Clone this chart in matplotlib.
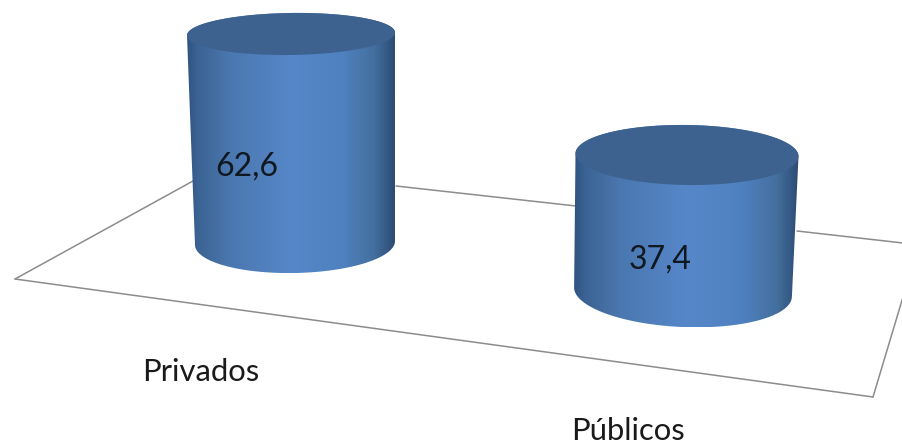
import numpy as np
import matplotlib
matplotlib.use("Agg")
import matplotlib.pyplot as plt
from matplotlib.colors import LinearSegmentedColormap
from matplotlib.patches import Polygon

# data
categories = ["Privados", "Públicos"]
values = [62.6, 37.4]
value_labels = ["62,6", "37,4"]

# layout in pixels of the picture (perspective: each column has its own scale)
base_cx = [295, 683]
base_cy = [243, 292]
base_rx = [100, 109]
base_ry = [30, 35]
base_tilt = [-1.2, 2.6]
top_cx = [291, 687]
top_rx = [104, 111.5]
top_ry = [21, 30]
top_tilt = [-0.8, 0.8]
px_per_unit = [3.339, 3.663]
value_xy = [(247, 167), (660, 260)]
cat_xy = [(201, 372), (628, 431)]

floor_segments = [
    ((15, 279), (193, 181)),
    ((396, 186), (576, 206)),
    ((797, 231), (903, 243)),
    ((15, 279), (873, 397)),
    ((873, 397), (903, 297)),
]

FONT = "Lato"
TOP_COLOR = "#3e6290"
SIDE = LinearSegmentedColormap.from_list(
    "side",
    [(0.0, "#2f5482"), (0.05, "#3b6393"), (0.2, "#4a77af"), (0.5, "#5687c9"),
     (0.75, "#4f80bf"), (0.9, "#44709f"), (0.97, "#335781"), (1.0, "#2c4a72")],
)


def ellipse_pts(cx, cy, rx, ry, tilt, t):
    a = np.radians(tilt)
    x, y = rx * np.cos(t), ry * np.sin(t)
    return np.column_stack([cx + x * np.cos(a) - y * np.sin(a),
                            cy + x * np.sin(a) + y * np.cos(a)])


fig = plt.figure(figsize=(9.03, 4.44), dpi=100, facecolor="white")
ax = fig.add_axes([0, 0, 1, 1])

for p, q in floor_segments:
    ax.plot([p[0], q[0]], [p[1], q[1]], color="#8c8c8c", lw=1.1, zorder=1,
            solid_capstyle="round")

for i, v in enumerate(values):
    top_cy = base_cy[i] - v * px_per_unit[i]
    back = ellipse_pts(top_cx[i], top_cy, top_rx[i], top_ry[i], top_tilt[i],
                       np.linspace(np.pi, 2 * np.pi, 80))
    front = ellipse_pts(base_cx[i], base_cy[i], base_rx[i], base_ry[i], base_tilt[i],
                        np.linspace(0, np.pi, 80))
    body = Polygon(np.vstack([back, front]), closed=True, fc="none", ec="none",
                   transform=ax.transData)
    ax.add_patch(body)
    xmin, xmax = min(back[:, 0].min(), front[:, 0].min()), max(back[:, 0].max(), front[:, 0].max())
    ymin, ymax = back[:, 1].min(), front[:, 1].max()
    img = ax.imshow(np.linspace(0, 1, 256)[None, :], cmap=SIDE, aspect="auto",
                    extent=(xmin, xmax, ymax, ymin), zorder=2, interpolation="bilinear")
    img.set_clip_path(body)
    cap = ellipse_pts(top_cx[i], top_cy, top_rx[i], top_ry[i], top_tilt[i],
                      np.linspace(0, 2 * np.pi, 160))
    ax.add_patch(Polygon(cap, closed=True, fc=TOP_COLOR, ec="none", zorder=3))
    ax.text(*value_xy[i], value_labels[i], ha="center", va="center", fontsize=23,
            family=FONT, color="#101820", zorder=4)
    ax.text(*cat_xy[i], categories[i], ha="center", va="center", fontsize=22.3,
            family=FONT, color="#1a1a1a", zorder=4)

ax.set_xlim(0, 903)
ax.set_ylim(444, 0)
ax.axis("off")
fig.savefig("out.png", dpi=100, facecolor="white")
